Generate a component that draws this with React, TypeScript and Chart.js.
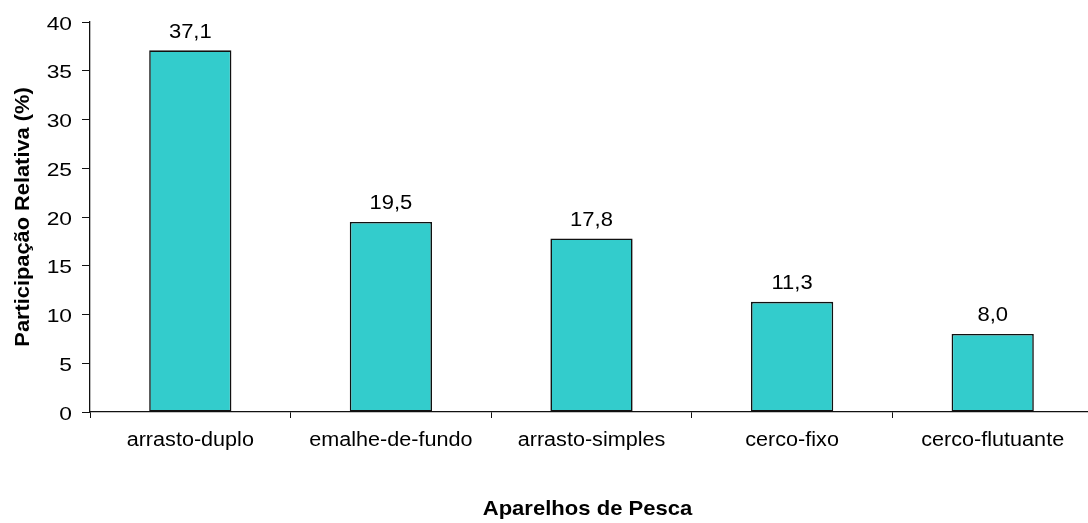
import React, { useEffect, useRef } from "react";
import { Chart, registerables } from "chart.js";

Chart.register(...registerables);

const categories = ["arrasto-duplo", "emalhe-de-fundo", "arrasto-simples", "cerco-fixo", "cerco-flutuante"];
const values = [37.1, 19.5, 17.8, 11.3, 8.0];
const yTicks = [0, 5, 10, 15, 20, 25, 30, 35, 40];
const xTitle = "Aparelhos de Pesca";
const yTitle = "Participação Relativa (%)";

const FONT = "'Liberation Sans', Arial, sans-serif";

function drawText(
  ctx: CanvasRenderingContext2D,
  text: string,
  x: number,
  y: number,
  font: string,
  sx: number,
  align: CanvasTextAlign,
  rotate = 0
) {
  ctx.save();
  ctx.translate(x, y);
  if (rotate) ctx.rotate(rotate);
  ctx.scale(sx, 1);
  ctx.font = font;
  ctx.textAlign = align;
  ctx.textBaseline = "alphabetic";
  ctx.fillStyle = "#000";
  ctx.fillText(text, 0, 0);
  ctx.restore();
}

const labelsPlugin = {
  id: "customText",
  afterDraw(chart: any) {
    const ctx = chart.ctx as CanvasRenderingContext2D;
    const area = chart.chartArea;
    const xs = chart.scales.x;
    const ys = chart.scales.y;
    yTicks.forEach((v) => {
      const y = ys.getPixelForValue(v);
      drawText(ctx, String(v), 72, y + 7.5, `19px ${FONT}`, 1.2, "right");
    });
    categories.forEach((c, i) => {
      const x = xs.getPixelForValue(i);
      drawText(ctx, c, x, 445.5, `20px ${FONT}`, 1.08, "center");
    });
    const meta = chart.getDatasetMeta(0);
    meta.data.forEach((el: any, i: number) => {
      const txt = values[i].toFixed(1).replace(".", ",");
      drawText(ctx, txt, el.x, el.y - 12.7, `20px ${FONT}`, 1.1, "center");
    });
    drawText(ctx, xTitle, 587.5, 515, `bold 21px ${FONT}`, 1.05, "center");
    drawText(ctx, yTitle, 29, (area.top + area.bottom) / 2, `bold 20px ${FONT}`, 1.09, "center", -Math.PI / 2);
  },
};

export default function App() {
  const ref = useRef<HTMLCanvasElement>(null);
  useEffect(() => {
    if (!ref.current) return;
    const chart = new Chart(ref.current, {
      type: "bar",
      data: {
        labels: categories,
        datasets: [
          {
            data: values,
            backgroundColor: "#33CCCC",
            borderColor: "#111",
            borderWidth: 1.6,
            borderSkipped: false,
            barPercentage: 0.41,
            categoryPercentage: 1,
          },
        ],
      },
      options: {
        animation: false,
        responsive: false,
        devicePixelRatio: 1,
        layout: { padding: { top: 22, right: 3, left: 0, bottom: 0 } },
        plugins: { legend: { display: false }, tooltip: { enabled: false }, title: { display: false } },
        scales: {
          x: {
            offset: true,
            grid: { offset: true, drawOnChartArea: false, drawTicks: true, tickLength: 6, color: "#111", lineWidth: 1 },
            border: { display: true, color: "#111", width: 1.3 },
            ticks: { display: false },
            afterFit: (s: any) => {
              s.height = 111;
            },
          },
          y: {
            min: 0,
            max: 40,
            afterBuildTicks: (s: any) => {
              s.ticks = yTicks.map((v) => ({ value: v }));
            },
            grid: { drawOnChartArea: false, drawTicks: true, tickLength: 8, color: "#111", lineWidth: 1 },
            border: { display: true, color: "#111", width: 1.3 },
            ticks: { display: false },
            afterFit: (s: any) => {
              s.width = 90;
            },
          },
        },
      },
      plugins: [labelsPlugin],
    });
    return () => chart.destroy();
  }, []);
  return (
    <div style={{ position: "fixed", left: 0, top: 0, width: 1088, height: 523, overflow: "hidden", background: "#fff" }}>
      <canvas ref={ref} width={1096} height={523} />
    </div>
  );
}
